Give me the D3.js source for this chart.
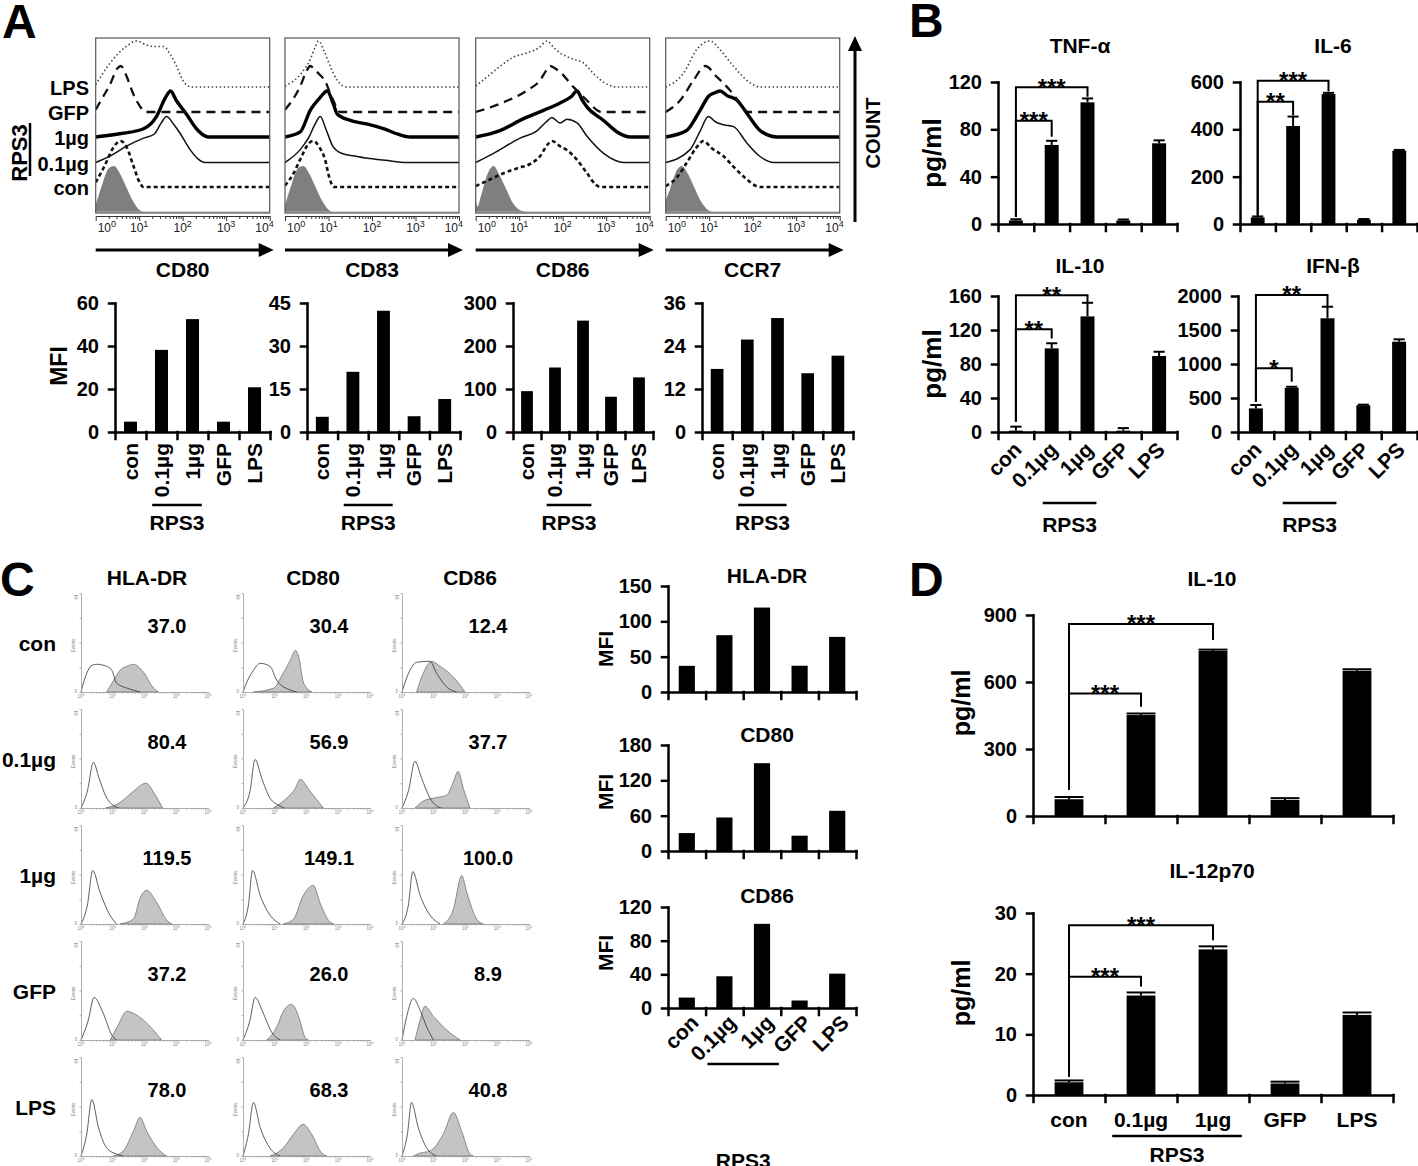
<!DOCTYPE html>
<meta charset="utf-8">
<style>
body { margin: 0; background: #fff; }
svg { display: block; background: #fff; font-family: "Liberation Sans", Arial, Helvetica, sans-serif; }
text { font-weight: bold; fill: #000; }
.axis path, .axis line { stroke: #000; stroke-width: 2.5; stroke-linecap: square; }
.axis text { font-size: 20px; font-weight: bold; font-family: "Liberation Sans", Arial, sans-serif; }
.logaxis path, .logaxis line { stroke: #333; stroke-width: 1; }
.tiny path, .tiny line { stroke: #999; stroke-width: 0.8; }
</style>
<svg width="1418" height="1166"></svg>
<script src="https://d3js.org/d3.v7.min.js"></script>
<script>

var groups = ["con", "0.1µg", "1µg", "GFP", "LPS"];

// ---- panel A: MFI bars
var mfiCD80 = [4.8, 38.2, 52.5, 4.8, 20.8];
var mfiCD83 = [5.3, 21, 42.3, 5.5, 11.5];
var mfiCD86 = [95, 150, 259, 82, 127];
var mfiCCR7 = [17.6, 25.8, 31.8, 16.4, 21.3];
var ticksCD80 = [0, 20, 40, 60];
var ticksCD83 = [0, 15, 30, 45];
var ticksCD86 = [0, 100, 200, 300];
var ticksCCR7 = [0, 12, 24, 36];

// ---- panel A: overlaid histograms, [log10 intensity, relative count]
var histCD80 = {
  iso: [[0,0.15],[0.15,0.6],[0.3,0.95],[0.42,1],[0.55,0.85],[0.7,0.55],[0.85,0.25],[1.0,0.05],[1.1,0]],
  con: [[0,0.1],[0.2,0.45],[0.4,0.85],[0.57,1],[0.72,0.85],[0.87,0.45],[1.0,0.12],[1.1,0]],
  p1: [[0,0],[0.35,0.15],[0.7,0.35],[1.1,0.53],[1.35,0.62],[1.5,0.85],[1.63,1],[1.8,0.82],[1.95,0.62],[2.17,0.28],[2.35,0.08],[2.5,0]],
  g1: [[0,0],[0.55,0.07],[1.1,0.18],[1.4,0.45],[1.6,0.85],[1.72,1],[1.85,0.8],[2.1,0.48],[2.3,0.2],[2.5,0.03],[2.6,0]],
  gfp: [[0,0.05],[0.15,0.3],[0.33,0.6],[0.5,0.95],[0.58,1],[0.7,0.8],[0.87,0.38],[1.0,0.15],[1.15,0]],
  lps: [[0,0.05],[0.33,0.52],[0.7,0.88],[0.94,1],[1.15,0.92],[1.35,0.88],[1.56,0.88],[1.72,0.7],[1.86,0.45],[2.0,0.15],[2.2,0]]
};
var histCD83 = {
  iso: [[0,0.15],[0.15,0.6],[0.3,0.95],[0.42,1],[0.55,0.85],[0.7,0.55],[0.85,0.25],[1.0,0.05],[1.1,0]],
  con: [[0,0.03],[0.2,0.3],[0.35,0.6],[0.55,0.95],[0.65,1],[0.8,0.85],[0.92,0.6],[1.02,0.2],[1.12,0]],
  p1: [[0,0],[0.35,0.28],[0.55,0.55],[0.7,0.85],[0.81,1],[0.95,0.7],[1.1,0.35],[1.3,0.2],[1.6,0.14],[1.9,0.09],[2.3,0.05],[2.8,0]],
  g1: [[0,0],[0.35,0.11],[0.58,0.58],[0.8,0.85],[0.97,1],[1.1,0.75],[1.2,0.5],[1.5,0.36],[1.9,0.28],[2.3,0.17],[2.6,0.06],[2.88,0]],
  gfp: [[0,0.05],[0.2,0.3],[0.35,0.56],[0.5,0.9],[0.58,1],[0.7,0.9],[0.81,0.8],[0.92,0.68],[1.02,0.45],[1.11,0.25],[1.27,0]],
  lps: [[0,0.02],[0.35,0.27],[0.58,0.6],[0.7,0.88],[0.77,1],[0.9,0.78],[1.04,0.45],[1.19,0.16],[1.42,0]]
};
var histCD86 = {
  iso: [[0,0.3],[0.04,0.12],[0.12,0.35],[0.28,0.85],[0.41,1],[0.55,0.8],[0.7,0.5],[0.85,0.2],[1.0,0.05],[1.18,0]],
  con: [[0,0.02],[0.3,0.15],[0.64,0.3],[1.0,0.42],[1.25,0.5],[1.48,0.67],[1.65,0.92],[1.75,1],[1.95,0.88],[2.1,0.8],[2.33,0.59],[2.56,0.3],[2.75,0.06],[2.86,0]],
  p1: [[0,0],[0.41,0.2],[1.02,0.53],[1.4,0.68],[1.64,0.9],[1.75,0.98],[1.94,0.86],[2.1,0.94],[2.33,0.86],[2.56,0.57],[2.94,0.2],[3.2,0.05],[3.4,0]],
  g1: [[0,0],[0.56,0.14],[1.1,0.4],[1.56,0.58],[1.94,0.74],[2.2,0.88],[2.33,1],[2.45,0.8],[2.56,0.65],[2.94,0.36],[3.25,0.11],[3.56,0]],
  gfp: [[0,0],[0.56,0.18],[1.18,0.47],[1.48,0.69],[1.62,0.9],[1.71,1],[1.82,0.95],[1.94,0.87],[2.25,0.54],[2.56,0.25],[2.79,0.04],[2.9,0]],
  lps: [[0,0.02],[0.3,0.25],[0.56,0.45],[0.87,0.65],[1.18,0.74],[1.45,0.85],[1.64,1],[1.8,0.85],[1.94,0.74],[2.2,0.62],[2.48,0.52],[2.7,0.3],[2.86,0.16],[3.25,0]]
};
var histCCR7 = {
  iso: [[0,0.25],[0.1,0.5],[0.25,0.9],[0.37,1],[0.5,0.85],[0.65,0.55],[0.8,0.25],[0.95,0.06],[1.1,0]],
  con: [[0,0.02],[0.25,0.2],[0.48,0.52],[0.7,0.85],[0.87,1],[1.05,0.85],[1.33,0.67],[1.55,0.45],[1.79,0.23],[2.17,0]],
  p1: [[0,0],[0.56,0.28],[0.8,0.7],[0.98,1],[1.15,0.88],[1.33,0.82],[1.56,0.78],[1.87,0.42],[2.17,0.13],[2.48,0]],
  g1: [[0,0],[0.48,0.14],[0.79,0.58],[1.0,0.9],[1.1,0.95],[1.25,1],[1.41,0.9],[1.64,0.8],[1.87,0.51],[2.17,0.14],[2.56,0]],
  gfp: [[0,0],[0.33,0.25],[0.64,0.69],[0.91,1],[1.18,0.76],[1.48,0.47],[1.7,0.2],[1.9,0]],
  lps: [[0,0],[0.41,0.3],[0.71,0.81],[1.02,1],[1.25,0.81],[1.56,0.45],[1.94,0.09],[2.17,0]]
};
var histLegend = ["LPS", "GFP", "1µg", "0.1µg", "con"];

// ---- panel B: cytokines (mean, error), brackets [from, to, level, leftEnd, rightEnd, stars]
var tnfMean = [3, 66.8, 102.8, 3, 68.2];
var tnfErr = [1, 3.5, 3.3, 0.8, 2.5];
var il6Mean = [28, 414, 549, 18, 310];
var il6Err = [4, 40, 5, 3, 3];
var il10Mean = [1.6, 98.4, 136, 1.6, 89.4];
var il10Err = [4.7, 6, 16, 3, 5];
var ifnMean = [347, 650, 1672, 392, 1328];
var ifnErr = [50, 15, 170, 10, 35];
var ticksTNF = [0, 40, 80, 120];
var ticksIL6 = [0, 200, 400, 600];
var ticksIL10b = [0, 40, 80, 120, 160];
var ticksIFN = [0, 500, 1000, 1500, 2000];
var sigTNF = [[0, 1, 87.3, 6, 73.8, "***"], [0, 2, 115.5, 6, 107.6, "***"]];
var sigIL6 = [[0, 1, 517, 31, 460, "**"], [0, 2, 605, 31, 560, "***"]];
var sigIL10b = [[0, 1, 120.8, 12, 110, "**"], [0, 2, 161, 12, 153, "**"]];
var sigIFN = [[0, 1, 936, 446, 740, "*"], [0, 2, 2015, 446, 1843, "**"]];

// ---- panel C: human DC MFI values and histograms [log10, fraction of plot height]
var cMarkers = ["HLA-DR", "CD80", "CD86"];
var mfiHLA = [37.0, 80.4, 119.5, 37.2, 78.0];
var mfiCD80h = [30.4, 56.9, 149.1, 26.0, 68.3];
var mfiCD86h = [12.4, 37.7, 100.0, 8.9, 40.8];
var ticksHLA = [0, 50, 100, 150];
var ticksCD80h = [0, 60, 120, 180];
var ticksCD86h = [0, 40, 80, 120];
var cOpenHLA = [
  [[0,0],[0.18,0.19],[0.35,0.27],[0.5,0.28],[0.8,0.26],[0.97,0.22],[1.12,0.09],[1.44,0.04],[1.86,0]],
  [[0,0],[0.2,0.17],[0.39,0.46],[0.57,0.3],[0.78,0.12],[1.04,0.02],[1.2,0]],
  [[0,0],[0.2,0.19],[0.37,0.54],[0.6,0.32],[0.91,0.09],[1.12,0]],
  [[0,0],[0.23,0.2],[0.41,0.43],[0.7,0.27],[0.97,0.05],[1.12,0]],
  [[0,0],[0.18,0.22],[0.34,0.57],[0.55,0.29],[0.81,0.08],[1.12,0.02],[1.33,0]]
];
var cFillHLA = [
  [[0.81,0],[1.07,0.14],[1.23,0.22],[1.45,0.26],[1.65,0.28],[1.97,0.2],[2.28,0.04],[2.44,0]],
  [[0.78,0],[1.2,0.05],[1.62,0.16],[2.04,0.25],[2.36,0.12],[2.57,0]],
  [[1.23,0],[1.65,0.05],[1.86,0.26],[2.07,0.34],[2.38,0.22],[2.7,0.04],[2.86,0]],
  [[0.92,0],[1.17,0.15],[1.44,0.29],[1.65,0.27],[1.97,0.2],[2.28,0.1],[2.54,0]],
  [[1.02,0],[1.33,0.05],[1.65,0.25],[1.86,0.39],[2.07,0.25],[2.49,0.05],[2.7,0]]
];
var cOpenCD80 = [
  [[0,0],[0.15,0.12],[0.33,0.22],[0.54,0.29],[0.85,0.26],[1.06,0.12],[1.48,0.02],[1.7,0]],
  [[0,0],[0.22,0.17],[0.38,0.49],[0.59,0.3],[0.85,0.1],[1.17,0.02],[1.3,0]],
  [[0,0],[0.17,0.19],[0.3,0.54],[0.54,0.29],[0.85,0.09],[1.17,0]],
  [[0,0],[0.22,0.2],[0.38,0.43],[0.64,0.27],[0.9,0.08],[1.17,0]],
  [[0,0],[0.17,0.22],[0.33,0.54],[0.54,0.29],[0.85,0.08],[1.17,0]]
];
var cFillCD80 = [
  [[0.33,0],[0.97,0.04],[1.23,0.17],[1.49,0.32],[1.65,0.42],[1.75,0.36],[1.91,0.09],[2.17,0]],
  [[0.96,0],[1.38,0.1],[1.65,0.2],[1.8,0.29],[2.11,0.17],[2.53,0]],
  [[1.27,0],[1.59,0.05],[1.9,0.29],[2.22,0.39],[2.43,0.21],[2.74,0.02],[2.85,0]],
  [[0.75,0],[1.06,0.13],[1.27,0.29],[1.53,0.36],[1.74,0.25],[1.95,0.03],[2.06,0]],
  [[0.85,0],[1.27,0.08],[1.59,0.22],[1.9,0.32],[2.16,0.22],[2.48,0.03],[2.64,0]]
];
var cOpenCD86 = [
  [[0,0],[0.25,0.22],[0.46,0.3],[0.88,0.31],[1.09,0.19],[1.41,0.05],[1.72,0]],
  [[0,0],[0.2,0.17],[0.41,0.47],[0.62,0.3],[0.88,0.1],[1.09,0.02],[1.25,0]],
  [[0,0],[0.2,0.19],[0.34,0.53],[0.57,0.29],[0.88,0.09],[1.2,0]],
  [[0,0],[0.15,0.24],[0.36,0.42],[0.57,0.3],[0.78,0.13],[0.99,0]],
  [[0,0],[0.17,0.22],[0.3,0.54],[0.51,0.29],[0.78,0.08],[1.09,0]]
];
var cFillCD86 = [
  [[0.46,0],[0.67,0.19],[0.93,0.31],[1.2,0.26],[1.56,0.17],[1.83,0.07],[1.98,0]],
  [[0.41,0],[0.67,0.07],[0.99,0.1],[1.41,0.13],[1.6,0.25],[1.77,0.37],[1.93,0.2],[2.14,0]],
  [[1.3,0],[1.62,0.15],[1.88,0.49],[2.04,0.32],[2.35,0.05],[2.56,0]],
  [[0.41,0],[0.57,0.2],[0.72,0.34],[0.99,0.24],[1.41,0.1],[1.83,0]],
  [[0.36,0],[0.57,0.03],[0.88,0.05],[1.3,0.22],[1.62,0.44],[1.88,0.25],[2.14,0.02],[2.25,0]]
];

// ---- panel D
var il10dMean = [75, 452, 739, 72, 650];
var il10dErr = [10, 7, 6, 8, 7];
var il12Mean = [2.1, 16.4, 24.0, 1.9, 13.2];
var il12Err = [0.3, 0.5, 0.5, 0.3, 0.4];
var ticksIL10d = [0, 300, 600, 900];
var ticksIL12 = [0, 10, 20, 30];
var sigIL10d = [[0, 1, 549, 116, 489, "***"], [0, 2, 860, 116, 788, "***"]];
var sigIL12 = [[0, 1, 19.5, 3.0, 17.9, "***"], [0, 2, 28.0, 3.0, 25.5, "***"]];

var svg = d3.select("svg");

function txt(g, x, y, s, size, anchor) {
  return g.append("text").attr("x", x).attr("y", y)
    .attr("font-size", size).attr("text-anchor", anchor || "middle").text(s);
}
function vtxt(g, x, y, s, size) {
  return g.append("text").attr("transform", "translate(" + x + "," + y + ") rotate(-90)")
    .attr("font-size", size).attr("text-anchor", "middle").text(s);
}

// generic bar chart
function barChart(o) {
  var g = svg.append("g");
  var x = d3.scaleBand().domain(groups).range([o.x0, o.x1])
      .paddingInner(o.pad).paddingOuter(o.pad / 2);
  var y = d3.scaleLinear().domain([0, o.ticks[o.ticks.length - 1]]).range([o.y1, o.y0]);
  var bw = x.bandwidth();
  var cx = function(i) { return x(groups[i]) + bw / 2; };

  g.selectAll(".bar").data(o.values).join("rect").attr("class", "bar")
    .attr("x", function(d, i) { return x(groups[i]); })
    .attr("width", bw)
    .attr("y", function(d) { return y(d); })
    .attr("height", function(d) { return y(0) - y(d); })
    .attr("fill", "#000");

  if (o.errors) {
    var eg = g.selectAll(".err").data(o.errors).join("g").attr("class", "err")
      .attr("stroke", "#000").attr("stroke-width", 2)
      .attr("transform", function(d, i) { return "translate(" + cx(i) + ",0)"; });
    eg.append("line")
      .attr("y1", function(d, i) { return y(o.values[i]); })
      .attr("y2", function(d, i) { return y(o.values[i] + d); });
    eg.append("line")
      .attr("x1", -bw * o.cap / 2).attr("x2", bw * o.cap / 2)
      .attr("y1", function(d, i) { return y(o.values[i] + d); })
      .attr("y2", function(d, i) { return y(o.values[i] + d); });
  }

  (o.sig || []).forEach(function(b) {
    var xa = cx(b[0]), xb = cx(b[1]);
    g.append("path")
      .attr("d", "M" + xa + "," + y(b[3]) + "V" + y(b[2]) + "H" + xb + "V" + y(b[4]))
      .attr("fill", "none").attr("stroke", "#000").attr("stroke-width", 2);
    txt(g, (xa + xb) / 2, y(b[2]) + 8.5, b[5], 24);
  });

  g.append("g").attr("class", "axis")
    .attr("transform", "translate(" + o.x0 + ",0)")
    .call(d3.axisLeft(y).tickValues(o.ticks).tickSize(6).tickSizeOuter(0)
      .tickPadding(10).tickFormat(d3.format("d")));

  var xb = d3.scaleLinear().domain([0, groups.length]).range([o.x0, o.x1]);
  g.append("g").attr("class", "axis")
    .attr("transform", "translate(0," + o.y1 + ")")
    .call(d3.axisBottom(xb).tickValues(d3.range(groups.length + 1))
      .tickSize(7).tickSizeOuter(0).tickFormat(""));

  if (o.title) txt(g, o.titleX || (o.x0 + o.x1) / 2, o.titleY, o.title, 21);
  if (o.ylab) vtxt(g, o.ylabX, o.ylabY || (o.y0 + o.y1) / 2, o.ylab, o.ylabSize || 23);

  var step = xb(1) - xb(0);
  if (o.labels === "vert") {
    groups.forEach(function(s, i) {
      g.append("text")
        .attr("transform", "translate(" + (cx(i) + 7) + "," + (o.y1 + 11) + ") rotate(-90)")
        .attr("font-size", 21).attr("text-anchor", "end").text(s);
    });
  } else if (o.labels === "diag") {
    groups.forEach(function(s, i) {
      g.append("text")
        .attr("transform", "translate(" + (cx(i) + o.ldx) + "," + (o.y1 + o.ldy) + ") rotate(-45)")
        .attr("font-size", 21).attr("text-anchor", "end").text(s);
    });
  } else if (o.labels === "horiz") {
    groups.forEach(function(s, i) {
      txt(g, cx(i), o.y1 + 32, s, 21);
    });
  }
  if (o.groupY) {
    g.append("line")
      .attr("x1", xb(1) + step * o.gIn).attr("x2", xb(3) - step * o.gIn)
      .attr("y1", o.groupY).attr("y2", o.groupY)
      .attr("stroke", "#000").attr("stroke-width", 2.5);
    txt(g, (xb(1) + xb(3)) / 2, o.groupY + o.rpsDy, "RPS3", 21);
  }
}

function powLabel(g, x, y, e, size, anchor, color) {
  var t = g.append("text").attr("x", x).attr("y", y).attr("font-size", size)
    .attr("text-anchor", anchor).style("font-weight", "normal").style("fill", color);
  t.append("tspan").text("10");
  t.append("tspan").attr("dy", -size * 0.45).attr("font-size", size * 0.75).text(e);
}

// ---------------- panel A: overlay histograms ----------------
var aLefts = [95.7, 285, 475.7, 665.7];
var aHist = [histCD80, histCD83, histCD86, histCCR7];
var aNames = ["CD80", "CD83", "CD86", "CCR7"];
var boxW = 174, boxTop = 38, boxBot = 213, peakH = 46;
var aSeries = [
  { key: "iso", base: 212 },
  { key: "con", base: 187, w: 2.6, dash: "4,3", col: "#111" },
  { key: "p1", base: 162.5, w: 1.5, dash: null, col: "#111" },
  { key: "g1", base: 137, w: 3.4, dash: null, col: "#000" },
  { key: "gfp", base: 112, w: 2.3, dash: "9,6", col: "#111" },
  { key: "lps", base: 87, w: 1.6, dash: "1.5,2.5", col: "#444" }
];

aHist.forEach(function(h, k) {
  var left = aLefts[k];
  var g = svg.append("g");
  var x = d3.scaleLog().domain([1, 1e4]).range([left, left + boxW]).clamp(true);
  var id = "clipA" + k;
  g.append("clipPath").attr("id", id).append("rect")
    .attr("x", left).attr("y", boxTop).attr("width", boxW).attr("height", boxBot - boxTop);
  var cg = g.append("g").attr("clip-path", "url(#" + id + ")");

  aSeries.forEach(function(s) {
    var y = d3.scaleLinear().domain([0, 1]).range([s.base, s.base - peakH]);
    var pts = h[s.key].concat([[4, 0]]);
    if (s.key === "iso") {
      cg.append("path").datum(h[s.key])
        .attr("d", d3.area().curve(d3.curveMonotoneX)
          .x(function(d) { return x(Math.pow(10, d[0])); })
          .y0(y(0)).y1(function(d) { return y(d[1]); }))
        .attr("fill", "#7f7f7f");
      cg.append("line").attr("x1", left).attr("x2", left + boxW)
        .attr("y1", y(0)).attr("y2", y(0)).attr("stroke", "#aaa").attr("stroke-width", 1);
    } else {
      cg.append("path").datum(pts)
        .attr("d", d3.line().curve(d3.curveMonotoneX)
          .x(function(d) { return x(Math.pow(10, d[0])); })
          .y(function(d) { return y(d[1]); }))
        .attr("fill", "none").attr("stroke", s.col).attr("stroke-width", s.w)
        .attr("stroke-dasharray", s.dash);
    }
  });

  g.append("rect").attr("x", left).attr("y", boxTop).attr("width", boxW)
    .attr("height", boxBot - boxTop).attr("fill", "none").attr("stroke", "#555").attr("stroke-width", 1.2);

  var ax = g.append("g").attr("class", "logaxis").attr("transform", "translate(0," + (boxBot + 3) + ")")
    .call(d3.axisBottom(x).tickValues(x.ticks()).tickSize(3).tickSizeOuter(0).tickFormat(""));
  ax.selectAll(".tick line").attr("y2", function(d) {
    return Math.abs(Math.log10(d) - Math.round(Math.log10(d))) < 1e-9 ? 5 : 3;
  });
  [0, 1, 2, 3, 4].forEach(function(e) {
    var anchor = e === 0 ? "start" : (e === 4 ? "end" : "middle");
    var dx = e === 0 ? 2 : (e === 4 ? 4 : 0);
    powLabel(g, x(Math.pow(10, e)) + dx, 232, e, 12, anchor, "#222");
  });

  // axis arrow
  var ay = 250;
  g.append("line").attr("x1", left).attr("x2", left + boxW - 10).attr("y1", ay).attr("y2", ay)
    .attr("stroke", "#000").attr("stroke-width", 3);
  g.append("path").attr("d", "M" + (left + boxW + 4) + "," + ay + "l-15,-7v14z").attr("fill", "#000");
  txt(g, left + boxW / 2, 277, aNames[k], 21);
});

// legend labels left of the first box
var legG = svg.append("g");
aSeries.slice(1).reverse().forEach(function(s, i) {
  txt(legG, 89, s.base + 8, histLegend[i], 20, "end");
});
legG.append("line").attr("x1", 30).attr("x2", 30).attr("y1", 123).attr("y2", 176)
  .attr("stroke", "#000").attr("stroke-width", 2.5);
vtxt(legG, 27, 153, "RPS3", 22);

// count arrow
legG.append("line").attr("x1", 855).attr("x2", 855).attr("y1", 222).attr("y2", 48)
  .attr("stroke", "#000").attr("stroke-width", 3);
legG.append("path").attr("d", "M855,36l-7,15h14z").attr("fill", "#000");
vtxt(legG, 880, 133, "COUNT", 20);

txt(svg, 2, 38, "A", 48, "start");
txt(svg, 909, 37, "B", 48, "start");
txt(svg, 0, 596, "C", 48, "start");
txt(svg, 909, 596, "D", 48, "start");

// panel A MFI bars
var aBarX = [[115, 270], [307, 460], [513, 653], [702, 853]];
var aMfi = [mfiCD80, mfiCD83, mfiCD86, mfiCCR7];
var aTicks = [ticksCD80, ticksCD83, ticksCD86, ticksCCR7];
aMfi.forEach(function(v, k) {
  barChart({
    x0: aBarX[k][0], x1: aBarX[k][1], y0: 303, y1: 432, values: v, ticks: aTicks[k],
    pad: 0.58, labels: "vert", groupY: 505, gIn: 0.2, rpsDy: 25,
    ylab: k === 0 ? "MFI" : null, ylabX: 67, ylabY: 366
  });
});

// ---------------- panel B ----------------
barChart({ x0: 998, x1: 1177, y0: 82, y1: 224, values: tnfMean, errors: tnfErr, cap: 0.8,
  ticks: ticksTNF, pad: 0.61, sig: sigTNF, title: "TNF-α", titleX: 1080, titleY: 53,
  ylab: "pg/ml", ylabX: 941, ylabSize: 26 });
barChart({ x0: 1240, x1: 1417, y0: 82, y1: 224, values: il6Mean, errors: il6Err, cap: 0.8,
  ticks: ticksIL6, pad: 0.61, sig: sigIL6, title: "IL-6", titleX: 1333, titleY: 53 });
barChart({ x0: 998, x1: 1177, y0: 296, y1: 432, values: il10Mean, errors: il10Err, cap: 0.8,
  ticks: ticksIL10b, pad: 0.61, sig: sigIL10b, title: "IL-10", titleX: 1080, titleY: 273,
  ylab: "pg/ml", ylabX: 941, ylabSize: 26, labels: "diag", ldx: 7, ldy: 19,
  groupY: 503, gIn: 0.25, rpsDy: 29 });
barChart({ x0: 1238, x1: 1417, y0: 296, y1: 432, values: ifnMean, errors: ifnErr, cap: 0.8,
  ticks: ticksIFN, pad: 0.61, sig: sigIFN, title: "IFN-β", titleX: 1333, titleY: 273,
  labels: "diag", ldx: 7, ldy: 19, groupY: 503, gIn: 0.25, rpsDy: 29 });

// ---------------- panel C: small histograms ----------------
var cLefts = [81, 243, 402];
var cTops = [593, 709, 825, 941, 1057];
var cW = 127, cH = 99;
var cOpen = [cOpenHLA, cOpenCD80, cOpenCD86];
var cFill = [cFillHLA, cFillCD80, cFillCD86];
var cVals = [mfiHLA, mfiCD80h, mfiCD86h];
var cTitleX = [147, 313, 470];

cMarkers.forEach(function(m, c) {
  txt(svg, cTitleX[c], 585, m, 21);
  cTops.forEach(function(top, r) {
    var left = cLefts[c];
    var g = svg.append("g");
    var x = d3.scaleLog().domain([1, 1e4]).range([left, left + cW]).clamp(true);
    var y = d3.scaleLinear().domain([0, 1]).range([top + cH, top]);
    var px = function(d) { return x(Math.pow(10, d[0])); };
    g.append("path").datum(cFill[c][r])
      .attr("d", d3.area().curve(d3.curveMonotoneX).x(px).y0(y(0)).y1(function(d) { return y(d[1]); }))
      .attr("fill", "#c4c4c4").attr("stroke", "#666").attr("stroke-width", 0.7);
    g.append("path").datum(cOpen[c][r])
      .attr("d", d3.line().curve(d3.curveMonotoneX).x(px).y(function(d) { return y(d[1]); }))
      .attr("fill", "none").attr("stroke", "#333").attr("stroke-width", 0.8);

    g.append("g").attr("class", "tiny").attr("transform", "translate(0," + (top + cH) + ")")
      .call(d3.axisBottom(x).tickValues(x.ticks()).tickSize(1.5).tickSizeOuter(0).tickFormat(""));
    [0, 1, 2, 3, 4].forEach(function(e) {
      powLabel(g, x(Math.pow(10, e)), top + cH + 6, e, 4.5, "middle", "#888");
    });
    g.append("g").attr("class", "tiny").attr("transform", "translate(" + left + ",0)")
      .call(d3.axisLeft(y).tickValues([0, 0.25, 0.5, 0.75, 1]).tickSize(1.5).tickSizeOuter(0).tickFormat(""));
    g.append("text").attr("x", left - 4).attr("y", top + cH + 1).attr("font-size", 4.5)
      .attr("text-anchor", "end").style("fill", "#888").style("font-weight", "normal").text("0");
    g.append("text").attr("transform", "translate(" + (left - 3) + "," + (top + 4) + ") rotate(-90)")
      .attr("font-size", 4.5).attr("text-anchor", "middle").style("fill", "#888")
      .style("font-weight", "normal").text("64");
    g.append("text").attr("transform", "translate(" + (left - 6) + "," + (top + cH * 0.53) + ") rotate(-90)")
      .attr("font-size", 4.5).attr("text-anchor", "middle").style("fill", "#888")
      .style("font-weight", "normal").text("Events");

    txt(g, left + 86, top + 40, cVals[c][r].toFixed(1), 20);
  });
});
cTops.forEach(function(top, r) {
  txt(svg, 56, top + 58, groups[r], 21, "end");
});

// panel C bars
barChart({ x0: 668, x1: 856, y0: 586, y1: 692, values: mfiHLA, ticks: ticksHLA, pad: 0.57,
  title: "HLA-DR", titleX: 767, titleY: 583, ylab: "MFI", ylabX: 613, ylabY: 649, ylabSize: 21 });
barChart({ x0: 668, x1: 856, y0: 745, y1: 851, values: mfiCD80h, ticks: ticksCD80h, pad: 0.57,
  title: "CD80", titleX: 767, titleY: 742, ylab: "MFI", ylabX: 613, ylabY: 792, ylabSize: 21 });
barChart({ x0: 668, x1: 856, y0: 907, y1: 1008, values: mfiCD86h, ticks: ticksCD86h, pad: 0.57,
  title: "CD86", titleX: 767, titleY: 903, ylab: "MFI", ylabX: 613, ylabY: 953, ylabSize: 21,
  labels: "diag", ldx: 13, ldy: 16, groupY: 1064, gIn: 0.05, rpsDy: 104 });

// ---------------- panel D ----------------
barChart({ x0: 1033, x1: 1393, y0: 615, y1: 816, values: il10dMean, errors: il10dErr, cap: 1,
  ticks: ticksIL10d, pad: 0.6, sig: sigIL10d, title: "IL-10", titleX: 1212, titleY: 586,
  ylab: "pg/ml", ylabX: 970, ylabY: 703, ylabSize: 25 });
barChart({ x0: 1033, x1: 1393, y0: 913, y1: 1095, values: il12Mean, errors: il12Err, cap: 1,
  ticks: ticksIL12, pad: 0.6, sig: sigIL12, title: "IL-12p70", titleX: 1212, titleY: 878,
  ylab: "pg/ml", ylabX: 970, ylabY: 993, ylabSize: 25, labels: "horiz", groupY: 1136, gIn: 0.1, rpsDy: 26 });

</script>
